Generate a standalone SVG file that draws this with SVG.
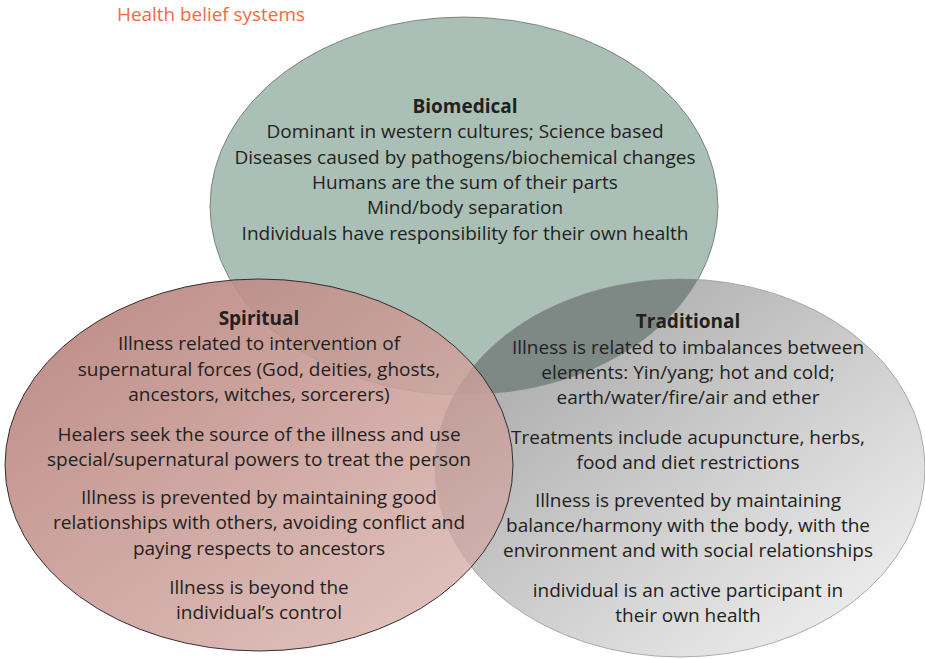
<svg xmlns="http://www.w3.org/2000/svg" width="925" height="659" viewBox="0 0 925 659">
  <defs>
    <linearGradient id="gradSpiritual" x1="0" y1="0" x2="1" y2="1">
      <stop offset="0" stop-color="#b47c76"/>
      <stop offset="1" stop-color="#e2c2bd"/>
    </linearGradient>
    <linearGradient id="gradTraditional" x1="0" y1="0" x2="1" y2="1">
      <stop offset="0" stop-color="#9e9e9e"/>
      <stop offset="1" stop-color="#f7f7f7"/>
    </linearGradient>
    <clipPath id="clipBio">
      <ellipse cx="464" cy="206" rx="254" ry="189"/>
    </clipPath>
    <clipPath id="clipSpiritual">
      <ellipse cx="259" cy="465" rx="254" ry="186"/>
    </clipPath>
    <style>
      .lbl { font-family: "Open Sans", "Liberation Sans", sans-serif; font-size: 19px; fill: #231f20; text-anchor: middle; }
      .head { font-weight: bold; }
      .title { font-family: "Open Sans", "Liberation Sans", sans-serif; font-size: 18.9px; fill: #f26a3f; }
    </style>
  </defs>

  <rect width="925" height="659" fill="#ffffff"/>

  <text class="title" x="117" y="21">Health belief systems</text>

  <!-- Biomedical circle -->
  <g id="biomedical">
    <ellipse cx="464" cy="206" rx="254" ry="189" fill="#aabfb5" stroke="#4a4f4d" stroke-width="0.6"/>
  </g>

  <!-- Traditional circle, with the darker band where it meets Biomedical -->
  <g id="traditional">
    <ellipse cx="680" cy="468" rx="245" ry="189" fill="url(#gradTraditional)" stroke="#9a9a9a" stroke-width="0.8"/>
    <ellipse cx="680" cy="468" rx="245" ry="189" fill="#7e8986" clip-path="url(#clipBio)"/>
  </g>

  <!-- Spiritual circle, semi-transparent over the other two -->
  <g id="spiritual">
    <ellipse cx="259" cy="465" rx="254" ry="186" fill="url(#gradSpiritual)" opacity="0.9"/>
    <ellipse cx="680" cy="468" rx="245" ry="189" fill="#5a4a48" opacity="0.08" clip-path="url(#clipSpiritual)"/>
    <ellipse cx="259" cy="465" rx="254" ry="186" fill="none" stroke="#231f20" stroke-width="0.9"/>
  </g>

  <!-- Labels -->
  <g id="biomedical-text">
    <text class="lbl head" x="465" y="112.5">Biomedical</text>
    <text class="lbl" x="465" y="138">Dominant in western cultures; Science based</text>
    <text class="lbl" x="465" y="163.5">Diseases caused by pathogens/biochemical changes</text>
    <text class="lbl" x="465" y="189">Humans are the sum of their parts</text>
    <text class="lbl" x="465" y="214">Mind/body separation</text>
    <text class="lbl" x="465" y="239.5">Individuals have responsibility for their own health</text>
  </g>

  <g id="spiritual-text">
    <text class="lbl head" x="259" y="325">Spiritual</text>
    <text class="lbl" x="259" y="350">Illness related to intervention of</text>
    <text class="lbl" x="259" y="375.5">supernatural forces (God, deities, ghosts,</text>
    <text class="lbl" x="259" y="401">ancestors, witches, sorcerers)</text>
    <text class="lbl" x="259" y="440.5">Healers seek the source of the illness and use</text>
    <text class="lbl" x="259" y="466">special/supernatural powers to treat the person</text>
    <text class="lbl" x="259" y="503.5">Illness is prevented by maintaining good</text>
    <text class="lbl" x="259" y="529">relationships with others, avoiding conflict and</text>
    <text class="lbl" x="259" y="554.5">paying respects to ancestors</text>
    <text class="lbl" x="259" y="594">Illness is beyond the</text>
    <text class="lbl" x="259" y="619">individual’s control</text>
  </g>

  <g id="traditional-text">
    <text class="lbl head" x="688" y="328">Traditional</text>
    <text class="lbl" x="688" y="353.5">Illness is related to imbalances between</text>
    <text class="lbl" x="688" y="379">elements: Yin/yang; hot and cold;</text>
    <text class="lbl" x="688" y="404">earth/water/fire/air and ether</text>
    <text class="lbl" x="688" y="443.5">Treatments include acupuncture, herbs,</text>
    <text class="lbl" x="688" y="469">food and diet restrictions</text>
    <text class="lbl" x="688" y="506.5">Illness is prevented by maintaining</text>
    <text class="lbl" x="688" y="532">balance/harmony with the body, with the</text>
    <text class="lbl" x="688" y="557">environment and with social relationships</text>
    <text class="lbl" x="688" y="596.5">individual is an active participant in</text>
    <text class="lbl" x="688" y="621.5">their own health</text>
  </g>
</svg>
